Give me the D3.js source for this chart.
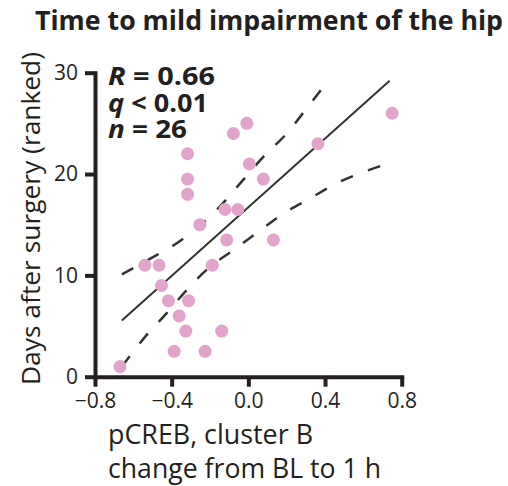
<!DOCTYPE html>
<html>
<head>
<meta charset="utf-8">
<script src="https://cdn.jsdelivr.net/npm/d3@7"></script>
<style>
   body { margin: 0; background: #fff; }
   #chart { width: 508px; height: 486px; }
   text { font-family: "Open Sans", "Noto Sans", sans-serif; fill: #231f20; }
</style>
</head>
<body>
<div id="chart"></div>
<script>
// pCREB change (x) vs ranked days (y), one entry per patient
const pcrebChange = [-0.67, -0.387, -0.226, -0.326, -0.139, -0.361, -0.417, -0.312, -0.453, -0.54,
   -0.466, -0.188, -0.113, -0.253, -0.317, -0.317, -0.317, -0.078, -0.008, 0.005,
   -0.122, -0.055, 0.078, 0.363, 0.75, 0.131];
const daysRanked = [1, 2.5, 2.5, 4.5, 4.5, 6, 7.5, 7.5, 9, 11,
   11, 11, 13.5, 15, 22, 19.5, 18, 24, 25, 21,
   16.5, 16.5, 19.5, 23, 26, 13.5];

// Fit line and confidence band
const fitX = [-0.66, 0.737];
const fitY = [5.55, 29.2];
const upperBandX = [-0.66, -0.493, -0.371, -0.148, -0.035, 0.078, 0.2, 0.297, 0.42];
const upperBandY = [10.1, 11.85, 13.2, 16.8, 19.25, 21.7, 24.0, 26.3, 29.3];
const lowerBandX = [-0.66, -0.531, -0.427, -0.322, -0.209, -0.078, 0.052, 0.183, 0.323, 0.462, 0.601, 0.737];
const lowerBandY = [1.0, 4.1, 6.25, 8.55, 10.7, 12.5, 14.3, 16.1, 17.6, 19.1, 20.2, 21.1];

const xTicks = [-0.8, -0.4, 0.0, 0.4, 0.8];
const yTicks = [0, 10, 20, 30];

const width = 508;
const height = 486;
const margin = { top: 72.7, right: 106.3, bottom: 109.3, left: 95 };
const ink = "#231f20";

const svg = d3.select("#chart").append("svg")
   .attr("width", width)
   .attr("height", height);

const x = d3.scaleLinear().domain([-0.8, 0.8]).range([margin.left, width - margin.right]);
const y = d3.scaleLinear().domain([0, 30]).range([height - margin.bottom, margin.top]);

// Title
svg.append("text")
   .attr("x", 35)
   .attr("y", 29.5)
   .attr("font-size", 26)
   .attr("font-weight", 700)
   .attr("textLength", 468)
   .attr("lengthAdjust", "spacingAndGlyphs")
   .text("Time to mild impairment of the hip");

// Fit line and dashed band
const line = d3.line().x(d => x(d[0])).y(d => y(d[1]));

svg.append("path")
   .datum(d3.zip(fitX, fitY))
   .attr("d", line)
   .attr("fill", "none")
   .attr("stroke", "#333")
   .attr("stroke-width", 2);

[[upperBandX, upperBandY], [lowerBandX, lowerBandY]].forEach(([bx, by]) => {
   svg.append("path")
      .datum(d3.zip(bx, by))
      .attr("d", line.curve(d3.curveMonotoneX))
      .attr("fill", "none")
      .attr("stroke", "#333")
      .attr("stroke-width", 2.5)
      .attr("stroke-dasharray", "13,16");
});

// Points
svg.append("g").selectAll("circle")
   .data(d3.zip(pcrebChange, daysRanked))
   .join("circle")
   .attr("cx", d => x(d[0]))
   .attr("cy", d => y(d[1]))
   .attr("r", 6.5)
   .attr("fill", "#e2a4ca");

// Axes
const fmtX = d3.format(".1f");
const xAxis = svg.append("g")
   .attr("transform", `translate(0,${y(0)})`)
   .call(d3.axisBottom(x).tickValues(xTicks).tickFormat(fmtX).tickSize(10).tickSizeOuter(0).tickPadding(8));

const yAxis = svg.append("g")
   .attr("transform", `translate(${x(-0.8)},0)`)
   .call(d3.axisLeft(y).tickValues(yTicks).tickSize(10).tickSizeOuter(0).tickPadding(7));

[xAxis, yAxis].forEach(ax => {
   ax.select(".domain").attr("stroke", ink).attr("stroke-width", 4).attr("stroke-linecap", "square");
   ax.selectAll(".tick line").attr("stroke", ink).attr("stroke-width", 4);
   ax.selectAll(".tick text")
      .attr("font-size", 21)
      .attr("font-family", "Open Sans, sans-serif")
      .attr("fill", ink);
});
xAxis.selectAll(".tick text").attr("dy", null).attr("y", 31.5);

// Stats block
const stats = [
   { sym: "R", rest: " = 0.66", y: 85, len: 107 },
   { sym: "q", rest: " < 0.01", y: 111.5, len: 100 },
   { sym: "n", rest: " = 26", y: 137.5, len: 79 }
];
stats.forEach(s => {
   const t = svg.append("text")
      .attr("x", 108)
      .attr("y", s.y)
      .attr("font-size", 25)
      .attr("font-weight", 700)
      .attr("textLength", s.len)
      .attr("lengthAdjust", "spacingAndGlyphs");
   t.append("tspan").attr("font-style", "italic").text(s.sym);
   t.append("tspan").text(s.rest);
});

// Axis titles
svg.append("text")
   .attr("transform", "translate(40,385) rotate(-90)")
   .attr("font-size", 26)
   .attr("textLength", 333)
   .attr("lengthAdjust", "spacingAndGlyphs")
   .text("Days after surgery (ranked)");

svg.append("text")
   .attr("x", 108)
   .attr("y", 444.3)
   .attr("font-size", 27)
   .attr("textLength", 205)
   .attr("lengthAdjust", "spacingAndGlyphs")
   .text("pCREB, cluster B");

svg.append("text")
   .attr("x", 108)
   .attr("y", 478.3)
   .attr("font-size", 27)
   .attr("textLength", 273)
   .attr("lengthAdjust", "spacingAndGlyphs")
   .text("change from BL to 1 h");
</script>
</body>
</html>
